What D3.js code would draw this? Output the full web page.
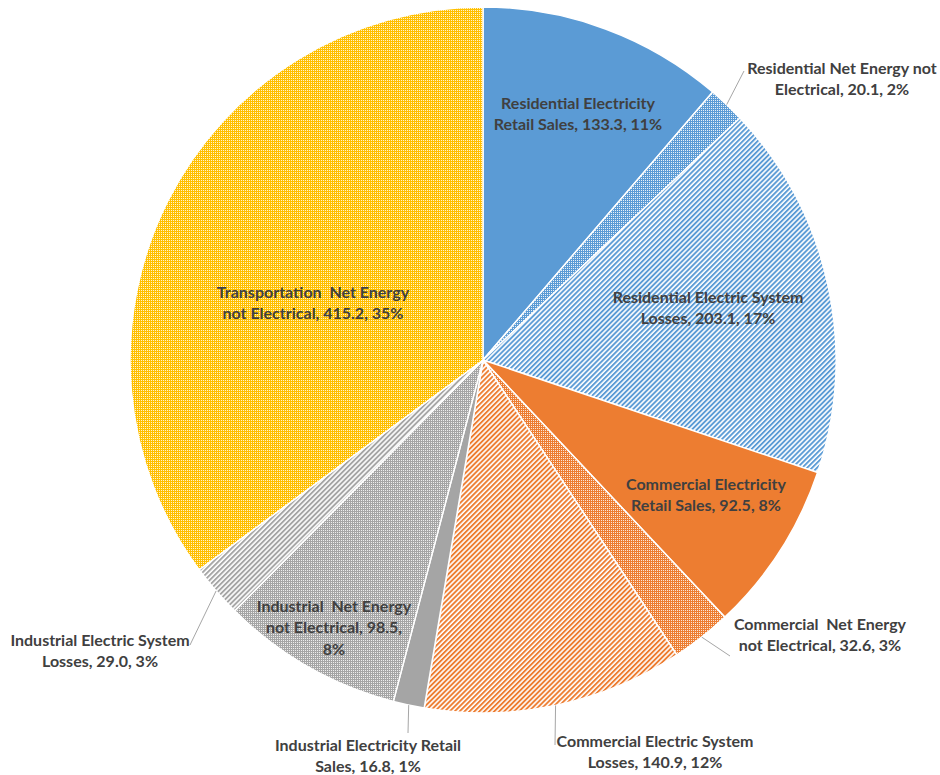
<!DOCTYPE html>
<html>
<head>
<meta charset="utf-8">
<script src="https://cdn.jsdelivr.net/npm/d3@7"></script>
<style>
  body { margin: 0; background: #fff; }
  svg text { font-family: Lato, "Noto Sans", sans-serif; font-weight: bold; font-size: 16px; fill: #404040; }
</style>
</head>
<body>
<script>
// slices, clockwise from 12 o'clock
const names = [
  "Residential Electricity Retail Sales",
  "Residential Net Energy not Electrical",
  "Residential Electric System Losses",
  "Commercial Electricity Retail Sales",
  "Commercial  Net Energy not Electrical",
  "Commercial Electric System Losses",
  "Industrial Electricity Retail Sales",
  "Industrial  Net Energy not Electrical",
  "Industrial Electric System Losses",
  "Transportation  Net Energy not Electrical"
];
const values = [133.3, 20.1, 203.1, 92.5, 32.6, 140.9, 16.8, 98.5, 29.0, 415.2];
const percents = ["11%", "2%", "17%", "8%", "3%", "12%", "1%", "8%", "3%", "35%"];
const labelLines = [
  ["Residential Electricity", "Retail Sales, 133.3, 11%"],
  ["Residential Net Energy not", "Electrical, 20.1, 2%"],
  ["Residential Electric System", "Losses, 203.1, 17%"],
  ["Commercial Electricity", "Retail Sales, 92.5, 8%"],
  ["Commercial  Net Energy", "not Electrical, 32.6, 3%"],
  ["Commercial Electric System", "Losses, 140.9, 12%"],
  ["Industrial Electricity Retail", "Sales, 16.8, 1%"],
  ["Industrial  Net Energy", "not Electrical, 98.5,", "8%"],
  ["Industrial Electric System", "Losses, 29.0, 3%"],
  ["Transportation  Net Energy", "not Electrical, 415.2, 35%"]
];

const W = 940, H = 775;
const cx = 483, cy = 360, R = 353;

// fill style per slice: solid / dots / stripes over a base colour
const baseColors = ["#5b9bd5", "#5b9bd5", "#5b9bd5", "#ed7d31", "#ed7d31", "#ed7d31", "#a5a5a5", "#a5a5a5", "#a5a5a5", "#ffc000"];
const kinds = ["solid", "dots", "stripes", "solid", "dots", "stripes", "solid", "dots", "stripes", "dots"];

// label anchor (centre of first line) and leader end
const labelPos = [
  [578, 103], [842, 68], [708, 297], [706, 484], [820, 624],
  [655, 741], [368, 745], [334, 606], [100, 640], [313, 292]
];
const leaderEnd = [null, [744, 71], null, null, [730, 656], [555, 745], [408, 733], null, [190, 645], null];

const svg = d3.select("body").append("svg")
  .attr("width", W).attr("height", H);

const defs = svg.append("defs");
baseColors.forEach((c, i) => {
  if (kinds[i] == "dots") {
    const p = defs.append("pattern").attr("id", "pat" + i)
      .attr("patternUnits", "userSpaceOnUse").attr("width", 2).attr("height", 2);
    p.append("rect").attr("width", 2).attr("height", 2).attr("fill", c);
    p.append("rect").attr("width", 1).attr("height", 1).attr("fill", "#fff")
      .attr("opacity", i == 1 ? 0.85 : 0.8);
  } else if (kinds[i] == "stripes") {
    const p = defs.append("pattern").attr("id", "pat" + i)
      .attr("patternUnits", "userSpaceOnUse").attr("width", 3.5).attr("height", 3.5)
      .attr("patternTransform", "rotate(45)");
    p.append("rect").attr("width", 3.5).attr("height", 3.5).attr("fill", "#fff");
    p.append("rect").attr("width", 1.9).attr("height", 3.5).attr("fill", c);
  }
});

const pie = d3.pie().sort(null).value(d => d);
const arcs = pie(values);
const arc = d3.arc().innerRadius(0).outerRadius(R);
const edge = d3.arc().innerRadius(R).outerRadius(R);

const g = svg.append("g").attr("transform", `translate(${cx},${cy})`);

g.selectAll("path.slice")
  .data(arcs)
  .join("path")
  .attr("class", "slice")
  .attr("d", arc)
  .attr("fill", (d, i) => kinds[i] == "solid" ? baseColors[i] : `url(#pat${i})`)
  .attr("stroke", "#fff")
  .attr("stroke-width", 1.5);

// leader lines from the outer edge at mid angle
arcs.forEach((d, i) => {
  if (!leaderEnd[i]) return;
  const s = edge.centroid(d);
  svg.append("line")
    .attr("x1", cx + s[0]).attr("y1", cy + s[1])
    .attr("x2", leaderEnd[i][0]).attr("y2", leaderEnd[i][1])
    .attr("stroke", "#a6a6a6").attr("stroke-width", 1);
});

labelLines.forEach((lines, i) => {
  const t = svg.append("text")
    .attr("text-anchor", "middle")
    .attr("x", labelPos[i][0]).attr("y", labelPos[i][1]);
  lines.forEach((ln, k) => {
    t.append("tspan")
      .attr("x", labelPos[i][0])
      .attr("y", labelPos[i][1] + k * 21.5)
      .attr("dy", "0.35em")
      .attr("xml:space", "preserve")
      .text(ln);
  });
});
</script>
</body>
</html>
